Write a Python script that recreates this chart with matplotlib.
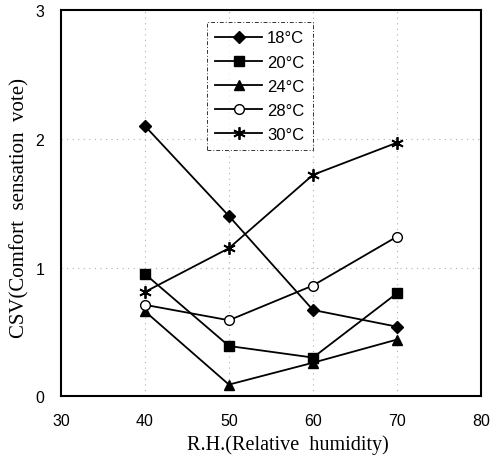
import matplotlib
matplotlib.use('Agg')
from matplotlib import pyplot as plt

#----------------------------------
# Data
rh = [40, 50, 60, 70]  # relative humidity (%)
csv_18 = [2.10, 1.40, 0.67, 0.54]
csv_20 = [0.95, 0.39, 0.30, 0.80]
csv_24 = [0.66, 0.09, 0.26, 0.44]
csv_28 = [0.71, 0.59, 0.86, 1.24]
csv_30 = [0.81, 1.15, 1.72, 1.97]

labels = ['18°C', '20°C', '24°C', '28°C', '30°C']
xticks = [30, 40, 50, 60, 70, 80]
yticks = [0, 1, 2, 3]

#----------------------------------
# Figure
fig = plt.figure(figsize=(4.99, 4.64), dpi=100)
ax = fig.add_axes([0.122, 0.144, 0.842, 0.832])

line_kw = dict(color='black', linewidth=1.3)
ax.plot(rh, csv_18, marker='D', markersize=6.5, markerfacecolor='black', label=labels[0], **line_kw)
ax.plot(rh, csv_20, marker='s', markersize=7, markerfacecolor='black', label=labels[1], **line_kw)
ax.plot(rh, csv_24, marker='^', markersize=7.5, markerfacecolor='black', label=labels[2], **line_kw)
ax.plot(rh, csv_28, marker='o', markersize=7, markerfacecolor='white', markeredgewidth=1.0, label=labels[3], **line_kw)
ax.plot(rh, csv_30, marker=(6, 2, 0), markersize=9, markeredgewidth=1.3, label=labels[4], **line_kw)

ax.set_xlim(30, 80)
ax.set_ylim(0, 3)
ax.set_xticks(xticks)
ax.set_yticks(yticks)
ax.tick_params(length=0, labelsize=11.5, pad=12)
for lab in ax.get_xticklabels() + ax.get_yticklabels():
    lab.set_family('Liberation Sans')

# faint dotted grid like the scan
ax.grid(True, color='#b0b0b0', linestyle=(0, (1, 4)), linewidth=0.8)
for s in ax.spines.values():
    s.set_linewidth(1.5)

ax.set_xlabel('R.H.(Relative  humidity)', family='Liberation Serif', fontsize=14.5)
ax.set_ylabel('CSV(Comfort  sensation  vote)', family='Liberation Serif', fontsize=15)
ax.xaxis.set_label_coords(0.54, -0.098)
ax.yaxis.set_label_coords(-0.075, 0.49)

leg = ax.legend(loc='upper left', bbox_to_anchor=(0.348, 0.969), borderaxespad=0,
                fancybox=False, edgecolor='black', handlelength=2.8,
                labelspacing=0.55, handletextpad=0.3, borderpad=0.5,
                prop={'family': 'Liberation Sans', 'size': 12})
leg.get_frame().set_linestyle((0, (4, 2, 1, 2)))
leg.get_frame().set_linewidth(0.7)

fig.savefig('out.png', dpi=100)
